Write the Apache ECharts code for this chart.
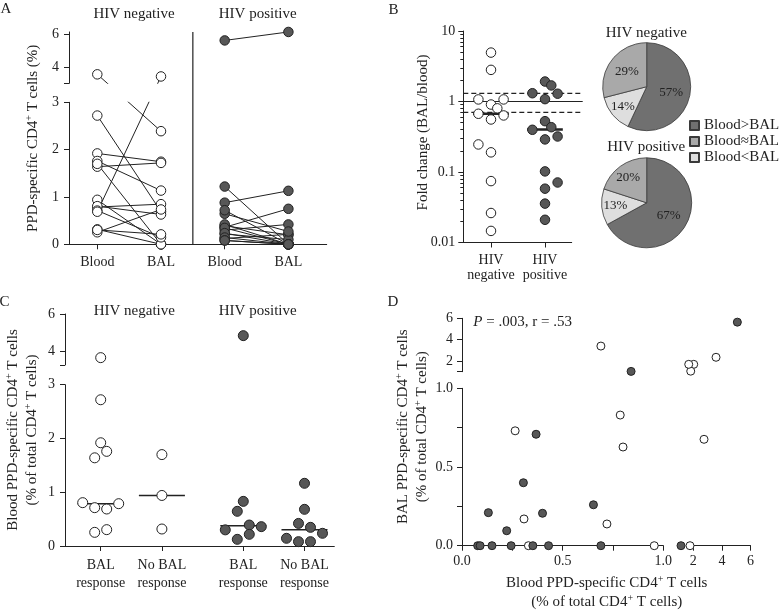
<!DOCTYPE html>
<html><head><meta charset="utf-8">
<script src="https://cdn.jsdelivr.net/npm/echarts@6/dist/echarts.min.js"></script>
<style>html,body{margin:0;padding:0;background:#fff}#c{width:779px;height:610px}</style>
</head><body><div id="c"></div>
<script>
// ================= DATA =================
// Panel A: paired Blood / BAL PPD-specific CD4+ T cells (%)
const catsA = ['Blood', 'BAL', 'Blood', 'BAL'];
const aNegBlood = [3.55, 2.72, 1.92, 1.76, 1.64, 1.70, 0.94, 0.316, 0.787, 0.806, 0.713, 0.688, 0.254, 0.304];
const aNegBAL   = [2.39, 0.69, 1.745, 1.135, 1.72, 0, 0, 0, 0.848, 0.63, 0.147, 3.42, 0.736, 0.21];
const aPosBlood = [5.63, 0.88, 0.36, 0.30, 0.124, 0.39, 0.217, 0.645, 1.22, 0.72, 0.42, 0.347, 0.236, 0.143, 0.081, 0.081];
const aPosBAL   = [6.15, 1.13, 0.75, 0.42, 0.21, 0.20, 0.10, 0.27, 0, 0, 0, 0, 0, 0, 0, 0];
const aYTicksLow = [0, 1, 2, 3];
const aYTicksUp = [4, 6];

// Panel B: fold change (BAL/blood), jitter lanes, medians, reference lines
const catsB = ['HIV\nnegative', 'HIV\npositive'];
const bNegFold = [4.94, 2.81, 1.07, 1.07, 0.906, 0.80, 0.67, 0.634, 0.556, 0.246, 0.19, 0.0743, 0.0262, 0.0146];
const bNegLane = [0, 0, -2, 2, 0, 1, -2, 2, 0, -2, 0, 0, 0, 0];
const bPosFold = [1.92, 1.69, 1.31, 1.29, 1.08, 0.526, 0.432, 0.397, 0.319, 0.29, 0.102, 0.071, 0.058, 0.0356, 0.021];
const bPosLane = [0, 1, -2, 2, 0, 0, 1, -2, 2, 0, 0, 2, 0, 0, 0];
const bMedians = [0.67, 0.40];
const bRefSolid = [1];
const bRefDashed = [1.3, 0.7];
const bYTicks = [0.01, 0.1, 1, 10];
const bYMinor = [0.02,0.03,0.04,0.05,0.06,0.07,0.08,0.09,0.2,0.3,0.4,0.5,0.6,0.7,0.8,0.9,2,3,4,5,6,7,8,9];

// Pies
const pieNames = ['Blood>BAL', 'Blood<BAL', 'Blood≈BAL'];   // clockwise from 12 o'clock
const pieNeg = [57, 14, 29];
const piePos = [67, 13, 20];
const legendOrder = ['Blood>BAL', 'Blood≈BAL', 'Blood<BAL'];

// Panel C: blood values by BAL response
const catsC = ['BAL\nresponse', 'No BAL\nresponse', 'BAL\nresponse', 'No BAL\nresponse'];
const cNegResp = [3.66, 2.72, 1.92, 1.76, 1.64, 0.806, 0.713, 0.688, 0.787, 0.254, 0.304];
const cNegRespLane = [0, 0, 0, 1, -1, -3, -1, 1, 3, -1, 1];
const cNegNo = [1.70, 0.94, 0.316];
const cNegNoLane = [0, 0, 0];
const cPosResp = [4.84, 0.83, 0.645, 0.39, 0.36, 0.30, 0.217, 0.124];
const cPosRespLane = [0, 0, -1, 1, 3, -3, 1, -1];
const cPosNo = [1.166, 0.682, 0.42, 0.347, 0.236, 0.143, 0.081, 0.081];
const cPosNoLane = [0, 0, -1, 1, 3, -3, -1, 1];
const cMedians = [0.787, 0.94, 0.378, 0.30];
const cYTicksLow = [0, 1, 2, 3];
const cYTicksUp = [4, 6];

// Panel D: blood (x) vs BAL (y)
const dNegBlood = [3.59, 2.75, 2.03, 1.82, 1.68, 1.77, 0.955, 0.33, 0.786, 0.80, 0.72, 0.69, 0.264, 0.308];
const dNegBAL   = [2.35, 0.676, 1.69, 1.05, 1.69, 0, 0, 0, 0.83, 0.627, 0.138, 3.4, 0.73, 0.17];
const dPosBlood = [5.08, 0.84, 0.368, 0.305, 0.131, 0.40, 0.222, 0.653, 1.14, 0.69, 0.43, 0.352, 0.244, 0.149, 0.078, 0.09];
const dPosBAL   = [5.64, 1.03, 0.708, 0.40, 0.21, 0.206, 0.095, 0.26, 0, 0, 0, 0, 0, 0, 0, 0];
const dLowTicks = [0, 0.25, 0.5, 0.75, 1];
const dLowLabels = [0, 0.5, 1];
const dUpXTicks = [2, 4, 6];
const dUpYTicks = [1, 2, 4, 6];
const dUpLabels = [2, 4, 6];

// ================= STYLE / HELPERS =================
const FONT = "'Liberation Serif','DejaVu Serif','Times New Roman',serif";
const INK = '#222';
const DARK = '#575757';
const pieColors = {'Blood>BAL': '#707070', 'Blood≈BAL': '#a9a9a9', 'Blood<BAL': '#dedede'};

function merge(a, b) {
  const o = Object.assign({}, a);
  for (const k in b) {
    const v = b[k];
    if (v && typeof v === 'object' && !Array.isArray(v) && o[k] && typeof o[k] === 'object' && !Array.isArray(o[k])) o[k] = merge(o[k], v);
    else o[k] = v;
  }
  return o;
}
const grids = [], xAxes = [], yAxes = [], series = [], graphics = [];
function addGrid(left, top, width, height) {
  grids.push({left, top, width, height, containLabel: false, outerBoundsMode: 'none', show: false});
  return grids.length - 1;
}
const AXIS = {
  type: 'value',
  axisLine: {show: true, onZero: false, lineStyle: {color: INK, width: 1}},
  axisTick: {show: true, inside: false, length: 5, lineStyle: {color: INK, width: 1}},
  axisLabel: {show: true, color: INK, fontFamily: FONT, fontSize: 14, margin: 8},
  splitLine: {show: false}, minorTick: {show: false}, minorSplitLine: {show: false}
};
function addX(grid, o) { xAxes.push(merge(merge(AXIS, {gridIndex: grid, position: 'bottom'}), o || {})); return xAxes.length - 1; }
function addY(grid, o) { yAxes.push(merge(merge(AXIS, {gridIndex: grid, position: 'left'}), o || {})); return yAxes.length - 1; }
function hidX(grid, o) { xAxes.push(Object.assign({gridIndex: grid, type: 'value', show: false, splitLine: {show: false}}, o || {})); return xAxes.length - 1; }
function hidY(grid, o) { yAxes.push(Object.assign({gridIndex: grid, type: 'value', show: false, splitLine: {show: false}}, o || {})); return yAxes.length - 1; }

function scatter(xi, yi, data, filled, size) {
  series.push({type: 'scatter', xAxisIndex: xi, yAxisIndex: yi, data, symbol: 'circle', symbolSize: size,
    clip: false, z: 5, silent: true,
    itemStyle: {color: filled ? DARK : '#ffffff', borderColor: INK, borderWidth: 1, opacity: 1}});
}
function seg(xi, yi, pts, width, dash) {
  series.push({type: 'line', xAxisIndex: xi, yAxisIndex: yi, data: pts, symbol: 'none', silent: true, z: 4,
    lineStyle: {color: INK, width: width, type: dash ? [5, 3] : 'solid'}});
}
const RICH = {
  n: {fontFamily: FONT, fontSize: 15, fill: INK, lineHeight: 17},
  s: {fontFamily: FONT, fontSize: 10, fill: INK, lineHeight: 9, verticalAlign: 'top'},
  i: {fontFamily: FONT, fontSize: 15, fill: INK, lineHeight: 17, fontStyle: 'italic'}
};
function text(x, y, t, size, rotate) {
  graphics.push({type: 'text', x, y, rotation: rotate ? Math.PI / 2 : 0, silent: true, z: 10,
    style: {text: t, fill: INK, fontFamily: FONT, fontSize: size || 15, align: 'center', verticalAlign: 'middle', rich: RICH}});
}
const sup = (a, b) => '{n|' + a + '}{s|+}{n|' + b + '}';

// ================= PANEL A =================
const LA = {left: 69, right: 326.7, zeroY: 244.3, px: 47.33, brk: 3, breakHighY: 83.3, upPx: 16.3, upMax: 6.15, xFirst: 97.3, xStep: 63.7};
const aGapT = (LA.zeroY - LA.brk * LA.px - LA.breakHighY) / LA.px;
const aK = LA.upPx / LA.px;
const tUpA = v => LA.brk + aGapT + (v - LA.brk) * aK;
const tUpAinv = t => LA.brk + (t - LA.brk - aGapT) / aK;
const tA = v => v <= LA.brk ? v : tUpA(v);
const aXmin = -(LA.xFirst - LA.left) / LA.xStep;
const aXmax = (LA.right - LA.xFirst) / LA.xStep;
const aLowTop = LA.zeroY - LA.brk * LA.px;
const aUpTop = LA.breakHighY - (LA.upMax - LA.brk) * LA.upPx;
const gAlow = addGrid(LA.left, aLowTop, LA.right - LA.left, LA.brk * LA.px);
const gAup = addGrid(LA.left, aUpTop, LA.right - LA.left, (LA.upMax - LA.brk) * LA.upPx);
const gAsep = addGrid(LA.left, aUpTop, LA.right - LA.left, LA.zeroY - aUpTop);
const catPosA = catsA.map((_, i) => i);
const xAl = addX(gAlow, {min: aXmin, max: aXmax,
  axisTick: {customValues: catPosA}, axisLabel: {customValues: catPosA, margin: 11, formatter: v => catsA[Math.round(v)]}});
const yAl = addY(gAlow, {min: 0, max: LA.brk, axisTick: {customValues: aYTicksLow}, axisLabel: {customValues: aYTicksLow, margin: 10}});
const xAu = hidX(gAup, {min: aXmin, max: aXmax});
const yAu = addY(gAup, {min: tUpA(LA.brk), max: tUpA(LA.upMax),
  axisTick: {customValues: [tUpA(LA.brk)].concat(aYTicksUp.map(tUpA))},
  axisLabel: {customValues: aYTicksUp.map(tUpA), margin: 10, formatter: v => String(Math.round(tUpAinv(v)))}});
const xAs = hidX(gAsep, {min: aXmin, max: aXmax});
const yAs = hidY(gAsep, {min: 0, max: 1});
seg(xAs, yAs, [[(catPosA[1] + catPosA[2]) / 2, 0], [(catPosA[1] + catPosA[2]) / 2, 1]], 1.2);
function pairLines(blood, bal, x0, x1) {
  const data = blood.map((b, i) => ({coords: [[x0, tA(b)], [x1, tA(bal[i])]]}));
  [[xAl, yAl], [xAu, yAu]].forEach(([xi, yi]) => series.push({type: 'lines', coordinateSystem: 'cartesian2d',
    xAxisIndex: xi, yAxisIndex: yi, data, clip: true, silent: true, z: 3, symbol: 'none',
    lineStyle: {color: INK, width: 1, opacity: 1, curveness: 0}}));
}
function pairPoints(vals, x, filled) {
  scatter(xAl, yAl, vals.filter(v => v <= LA.brk).map(v => [x, v]), filled, 9.5);
  scatter(xAu, yAu, vals.filter(v => v > LA.brk).map(v => [x, tUpA(v)]), filled, 9.5);
}
pairLines(aNegBlood, aNegBAL, catPosA[0], catPosA[1]);
pairLines(aPosBlood, aPosBAL, catPosA[2], catPosA[3]);
pairPoints(aNegBlood, catPosA[0], false); pairPoints(aNegBAL, catPosA[1], false);
pairPoints(aPosBlood, catPosA[2], true); pairPoints(aPosBAL, catPosA[3], true);
text(6, 9.5, 'A', 15);
text(134, 14, 'HIV negative', 15);
text(257.7, 14, 'HIV positive', 15);
text(33.3, 138.3, sup('PPD-specific CD4', ' T cells (%)'), 15, true);

// ================= PANEL B =================
const LB = {left: 463.3, top: 31, bottom: 242.5, refRight: 582.7, axisRight: 571.7, x0: 491, xStep: 54, lane: 6.3, medHalf: 0.33};
const gB1 = addGrid(LB.left, LB.top, LB.refRight - LB.left, LB.bottom - LB.top);
const gB2 = addGrid(LB.left, LB.top, LB.axisRight - LB.left, LB.bottom - LB.top);
const fmtLog = v => String(Number(v.toPrecision(3)));
const xB1 = hidX(gB1, {min: 0, max: 1});
const yB1 = addY(gB1, {type: 'log', logBase: 10, min: 0.01, max: 10,
  axisTick: {customValues: bYTicks}, axisLabel: {customValues: bYTicks, formatter: fmtLog, margin: 8}});
const yB1m = addY(gB1, {type: 'log', logBase: 10, min: 0.01, max: 10, axisLine: {show: false},
  axisTick: {customValues: bYMinor, length: 3}, axisLabel: {show: false}});
const bXmin = (LB.left - LB.x0) / LB.xStep, bXmax = (LB.axisRight - LB.x0) / LB.xStep;
const catPosB = catsB.map((_, i) => i);
const xB2 = addX(gB2, {min: bXmin, max: bXmax, axisTick: {customValues: catPosB},
  axisLabel: {customValues: catPosB, margin: 10, lineHeight: 15, formatter: v => catsB[Math.round(v)]}});
const yB2 = hidY(gB2, {type: 'log', logBase: 10, min: 0.01, max: 10});
bRefSolid.forEach(v => seg(xB1, yB1, [[0, v], [1, v]], 1.2));
bRefDashed.forEach(v => seg(xB1, yB1, [[0, v], [1, v]], 1.2, true));
const laneB = LB.lane / LB.xStep;
scatter(xB2, yB2, bNegFold.map((v, i) => [catPosB[0] + bNegLane[i] * laneB, v]), false, 9.5);
scatter(xB2, yB2, bPosFold.map((v, i) => [catPosB[1] + bPosLane[i] * laneB, v]), true, 9.5);
bMedians.forEach((m, i) => seg(xB2, yB2, [[catPosB[i] - LB.medHalf, m], [catPosB[i] + LB.medHalf, m]], 2.6));
text(393.5, 10, 'B', 15);
text(423.3, 132.5, '{n|Fold change (BAL/blood)}', 15, true);

// Pies
function pieLabelPush(cx, cy, r, vals) {
  return function (p) {
    if (vals[p.dataIndex] >= 25) return {};
    const lr = p.labelRect; const lx = lr.x + lr.width / 2, ly = lr.y + lr.height / 2;
    const dx = lx - cx, dy = ly - cy, d = Math.hypot(dx, dy) || 1, target = r * 0.7;
    return {dx: dx / d * target - dx, dy: dy / d * target - dy};
  };
}
function addPie(name, cx, cy, r, vals) {
  series.push({type: 'pie', name, center: [cx, cy], radius: r, startAngle: 90, clockwise: true, silent: true,
    data: pieNames.map((n, i) => ({name: n, value: vals[i], itemStyle: {color: pieColors[n]}})),
    itemStyle: {borderColor: '#3a3a3a', borderWidth: 0.8},
    label: {show: true, position: 'inside', formatter: '{c}%', color: INK, fontFamily: FONT, fontSize: 13},
    labelLine: {show: false}, labelLayout: pieLabelPush(cx, cy, r, vals)});
}
addPie('HIV negative', 646.7, 86.7, 44, pieNeg);
addPie('HIV positive', 646.7, 202.8, 45, piePos);
text(646.3, 33.3, 'HIV negative', 15);
text(646.2, 147.3, 'HIV positive', 15);

// ================= PANEL C =================
const LC = {left: 65, right: 334.3, zeroY: 546, px: 53.77, brk: 3, upMin: 3.27, upMax: 6, upPx: 18.65, upTopY: 314, x0: 100.7, xStep: 61.2, groupGap: 0.33, lane: 6, medHalf: 0.376};
const catPosC = catsC.map((_, i) => i + Math.floor(i / 2) * LC.groupGap);
const cXmin = (LC.left - LC.x0) / LC.xStep, cXmax = (LC.right - LC.x0) / LC.xStep;
const gClow = addGrid(LC.left, LC.zeroY - LC.brk * LC.px, LC.right - LC.left, LC.brk * LC.px);
const gCup = addGrid(LC.left, LC.upTopY, LC.right - LC.left, (LC.upMax - LC.upMin) * LC.upPx);
const xCl = addX(gClow, {min: cXmin, max: cXmax, axisTick: {customValues: catPosC},
  axisLabel: {customValues: catPosC, margin: 10, lineHeight: 18,
    formatter: v => catsC[catPosC.findIndex(p => Math.abs(p - v) < 1e-6)]}});
const yCl = addY(gClow, {min: 0, max: LC.brk, axisTick: {customValues: cYTicksLow}, axisLabel: {customValues: cYTicksLow, margin: 10}});
const xCu = hidX(gCup, {min: cXmin, max: cXmax});
const yCu = addY(gCup, {min: LC.upMin, max: LC.upMax, axisTick: {customValues: [LC.upMin].concat(cYTicksUp)},
  axisLabel: {customValues: cYTicksUp, margin: 10}});
const laneC = LC.lane / LC.xStep;
function groupC(vals, lanes, ci, filled) {
  const pts = vals.map((v, i) => [catPosC[ci] + lanes[i] * laneC, v]);
  scatter(xCl, yCl, pts.filter(p => p[1] <= LC.brk), filled, 10);
  scatter(xCu, yCu, pts.filter(p => p[1] > LC.brk), filled, 10);
}
groupC(cNegResp, cNegRespLane, 0, false);
groupC(cNegNo, cNegNoLane, 1, false);
groupC(cPosResp, cPosRespLane, 2, true);
groupC(cPosNo, cPosNoLane, 3, true);
cMedians.forEach((m, i) => seg(xCl, yCl, [[catPosC[i] - LC.medHalf, m], [catPosC[i] + LC.medHalf, m]], 1.5));
text(4.5, 302.5, 'C', 15);
text(134.3, 310.7, 'HIV negative', 15);
text(257.7, 310.7, 'HIV positive', 15);
text(13.3, 430, sup('Blood PPD-specific CD4', ' T cells'), 15, true);
text(31.7, 430, sup('(% of total CD4', ' T cells)'), 15, true);

// ================= PANEL D =================
const LD = {xl: 462, xlEnd: 663.3, xr: 693.3, xrEnd: 750.5, yl: 545.7, ylEnd: 388.3, yu: 371.7, yuEnd: 318.3,
  lowX: [0, 1], upX: [2, 6], lowY: [0, 1], upY: [1, 6]};
const gDLL = addGrid(LD.xl, LD.ylEnd, LD.xlEnd - LD.xl, LD.yl - LD.ylEnd);
const gDLR = addGrid(LD.xr, LD.ylEnd, LD.xrEnd - LD.xr, LD.yl - LD.ylEnd);
const gDUL = addGrid(LD.xl, LD.yuEnd, LD.xlEnd - LD.xl, LD.yu - LD.yuEnd);
const gDUR = addGrid(LD.xr, LD.yuEnd, LD.xrEnd - LD.xr, LD.yu - LD.yuEnd);
const f1 = v => v.toFixed(1);
const xDLL = addX(gDLL, {min: LD.lowX[0], max: LD.lowX[1], axisTick: {customValues: dLowTicks},
  axisLabel: {customValues: dLowLabels, formatter: f1, margin: 9}});
const yDLL = addY(gDLL, {min: LD.lowY[0], max: LD.lowY[1], axisTick: {customValues: dLowTicks},
  axisLabel: {customValues: dLowLabels, formatter: f1, margin: 9}});
const xDLR = addX(gDLR, {min: LD.upX[0], max: LD.upX[1], axisTick: {customValues: dUpXTicks},
  axisLabel: {customValues: dUpLabels, margin: 9}});
const yDLR = hidY(gDLR, {min: LD.lowY[0], max: LD.lowY[1]});
const xDUL = hidX(gDUL, {min: LD.lowX[0], max: LD.lowX[1]});
const yDUL = addY(gDUL, {min: LD.upY[0], max: LD.upY[1], axisTick: {customValues: dUpYTicks},
  axisLabel: {customValues: dUpLabels, margin: 9}});
const xDUR = hidX(gDUR, {min: LD.upX[0], max: LD.upX[1]});
const yDUR = hidY(gDUR, {min: LD.upY[0], max: LD.upY[1]});
const dAxes = [[xDLL, yDLL], [xDLR, yDLR], [xDUL, yDUL], [xDUR, yDUR]];
function groupD(xs, ys, filled) {
  const buckets = [[], [], [], []];
  xs.forEach((x, i) => {
    const y = ys[i];
    const k = (x > LD.lowX[1] ? 1 : 0) + (y > LD.lowY[1] ? 2 : 0);
    buckets[k].push([x, y]);
  });
  buckets.forEach((b, k) => { if (b.length) scatter(dAxes[k][0], dAxes[k][1], b, filled, 8); });
}
groupD(dNegBlood, dNegBAL, false);
groupD(dPosBlood, dPosBAL, true);
text(393, 302.5, 'D', 15);
graphics.push({type: 'text', x: 473.3, y: 322.3, silent: true, z: 10,
  style: {text: '{i|P}{n| = .003, r = .53}', rich: RICH, align: 'left', verticalAlign: 'middle'}});
text(403.3, 426.7, sup('BAL PPD-specific CD4', ' T cells'), 15, true);
text(421.7, 426.7, sup('(% of total CD4', ' T cells)'), 15, true);
text(606.7, 583.3, sup('Blood PPD-specific CD4', ' T cells'), 15);
text(606.7, 602.3, sup('(% of total CD4', ' T cells)'), 15);

// ================= CHART =================
const chart = echarts.init(document.getElementById('c'), null, {renderer: 'canvas'});
chart.setOption({
  animation: false,
  backgroundColor: '#ffffff',
  textStyle: {fontFamily: FONT},
  grid: grids, xAxis: xAxes, yAxis: yAxes, series, graphic: graphics,
  legend: {data: legendOrder, orient: 'vertical', left: 689, top: 118, padding: 0, itemGap: 1,
    itemWidth: 9, itemHeight: 9, icon: 'rect', selectedMode: false,
    textStyle: {fontFamily: FONT, fontSize: 15, color: INK}}
});
</script></body></html>
